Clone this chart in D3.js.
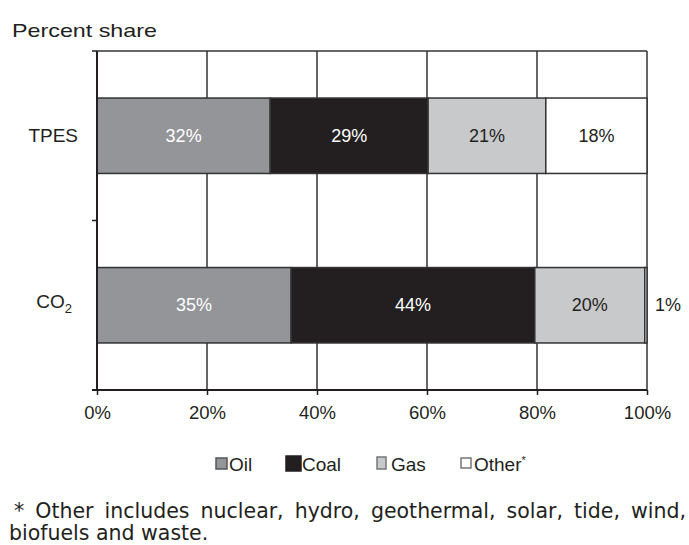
<!DOCTYPE html>
<html><head><meta charset="utf-8">
<script src="https://cdn.jsdelivr.net/npm/d3@7"></script>
<style>body{margin:0;background:#fff}svg{display:block}</style>
</head><body>
<script>
const categories = ["TPES", "CO2"];
const seriesNames = ["Oil", "Coal", "Gas", "Other*"];
const oilVals = [31.5, 35.3];
const coalVals = [28.7, 44.3];
const gasVals = [21.4, 20.0];
const otherVals = [18.4, 0.4];
const segLabels = [["32%", "29%", "21%", "18%"], ["35%", "44%", "20%", "1%"]];
const xTicks = [0, 20, 40, 60, 80, 100];
const colors = ["#939598", "#231f20", "#c8c9cb", "#ffffff"];
const labelColors = ["#ffffff", "#ffffff", "#231f20", "#231f20"];

const W = 689, H = 545;
const svg = d3.select("body").append("svg").attr("width", W).attr("height", H);
const font = "'Liberation Sans', Arial, sans-serif";

const x = d3.scaleLinear().domain([0, 100]).range([97, 647]);
const y = d3.scaleBand().domain(categories).range([51, 390]).paddingInner(0.555).paddingOuter(0.2775);
const band = d3.scaleBand().domain(categories).range([51, 390]);

const rows = categories.map((c, i) => ({cat: c, vals: [oilVals[i], coalVals[i], gasVals[i], otherVals[i]]}));
const stack = d3.stack().keys([0, 1, 2, 3]).value((d, k) => d.vals[k]);
const stacked = stack(rows);

// title
svg.append("text").attr("x", 12).attr("y", 37).attr("font-family", font).attr("font-size", 19)
  .attr("textLength", 145).attr("lengthAdjust", "spacingAndGlyphs").attr("fill", "#231f20").text("Percent share");

// gridlines
const g = svg.append("g");
g.selectAll("line.grid").data(xTicks.slice(1)).enter().append("line")
  .attr("x1", d => x(d)).attr("x2", d => x(d)).attr("y1", 51).attr("y2", 390)
  .attr("stroke", "#333").attr("stroke-width", 1.5);
g.append("line").attr("x1", x(0)).attr("x2", x(100)).attr("y1", 51).attr("y2", 51)
  .attr("stroke", "#333").attr("stroke-width", 1.5);

// bars
stacked.forEach((layer, k) => {
  svg.append("g").selectAll("rect").data(layer).enter().append("rect")
    .attr("x", d => x(d[0])).attr("width", d => x(d[1]) - x(d[0]))
    .attr("y", d => y(d.data.cat)).attr("height", y.bandwidth())
    .attr("fill", colors[k]).attr("stroke", "#333").attr("stroke-width", 1.5);
});
// segment labels
stacked.forEach((layer, k) => {
  layer.forEach((d, i) => {
    const w = x(d[1]) - x(d[0]);
    const inside = w > 30;
    svg.append("text")
      .attr("x", inside ? (x(d[0]) + x(d[1])) / 2 : x(d[1]) + 8)
      .attr("y", y(d.data.cat) + y.bandwidth() / 2 + 6)
      .attr("text-anchor", inside ? "middle" : "start")
      .attr("font-family", font).attr("font-size", 18)
      .attr("fill", inside ? labelColors[k] : "#231f20")
      .text(segLabels[i][k]);
  });
});

// x axis
const xAxis = d3.axisBottom(x).tickValues(xTicks).tickFormat(d => d + "%").tickSize(5).tickSizeOuter(0);
const xg = svg.append("g").attr("transform", "translate(0,390)").call(xAxis);
xg.select(".domain").attr("stroke", "#231f20").attr("stroke-width", 2).attr("d", "M92,0H647");
xg.selectAll(".tick line").attr("stroke", "#231f20").attr("stroke-width", 1.5);
xg.selectAll(".tick text").attr("font-family", font).attr("font-size", 18.5).attr("fill", "#231f20").attr("dy", "1.15em");

// y axis
svg.append("line").attr("x1", 97).attr("x2", 97).attr("y1", 51).attr("y2", 390).attr("stroke", "#231f20").attr("stroke-width", 2);
const yTickPos = [51, band(categories[1]), 390];
svg.selectAll("line.yt").data(yTickPos).enter().append("line")
  .attr("x1", 92).attr("x2", 97).attr("y1", d => d).attr("y2", d => d)
  .attr("stroke", "#231f20").attr("stroke-width", 1.5);

// category labels
categories.forEach(c => {
  const cy = y(c) + y.bandwidth() / 2;
  const t = svg.append("text").attr("x", 78).attr("y", cy + 6).attr("text-anchor", "end")
    .attr("font-family", font).attr("font-size", 19).attr("fill", "#231f20");
  if (c === "CO2") {
    t.attr("x", 72).attr("y", cy + 3);
    t.append("tspan").text("CO");
    t.append("tspan").attr("font-size", 13).attr("dy", 5).text("2");
  } else t.text(c);
});

// legend
const legendItems = [
  {name: "Oil", sx: 216, sy: 458, sw: 11, sh: 11, tx: 229, fill: colors[0], stroke: "#555"},
  {name: "Coal", sx: 286, sy: 456, sw: 15, sh: 15, tx: 302, fill: colors[1], stroke: "#231f20"},
  {name: "Gas", sx: 377, sy: 457, sw: 9, sh: 12, tx: 391, fill: colors[2], stroke: "#777"},
  {name: "Other*", sx: 461, sy: 458, sw: 10, sh: 10, tx: 474, fill: "#fff", stroke: "#777"}
];
legendItems.forEach((it, i) => {
  svg.append("rect").attr("x", it.sx).attr("y", it.sy).attr("width", it.sw).attr("height", it.sh)
    .attr("fill", it.fill).attr("stroke", it.stroke).attr("stroke-width", 1.5);
  const t = svg.append("text").attr("x", it.tx).attr("y", 471).attr("font-family", font).attr("font-size", 19).attr("fill", "#231f20");
  if (it.name === "Other*") {
    t.append("tspan").text("Other");
    t.append("tspan").attr("font-size", 11).attr("dy", -7).text("*");
  } else t.text(it.name);
});

// footnote
const fnFont = "'DejaVu Sans', Verdana, sans-serif";
const line1 = "* Other includes nuclear, hydro, geothermal, solar, tide, wind,";
const f1 = svg.append("text").attr("x", 14).attr("y", 518).attr("font-family", fnFont).attr("font-size", 20.5)
  .attr("fill", "#231f20").text(line1);
const natural = f1.node().getComputedTextLength();
const spaces = (line1.match(/ /g) || []).length;
const target = 672;
f1.attr("word-spacing", Math.max(0, (target - natural) / spaces));
if (natural > target) f1.attr("textLength", target).attr("lengthAdjust", "spacingAndGlyphs");
svg.append("text").attr("x", 9).attr("y", 540).attr("font-family", fnFont).attr("font-size", 20.5)
  .attr("fill", "#231f20").text("biofuels and waste.");
</script>
</body></html>
